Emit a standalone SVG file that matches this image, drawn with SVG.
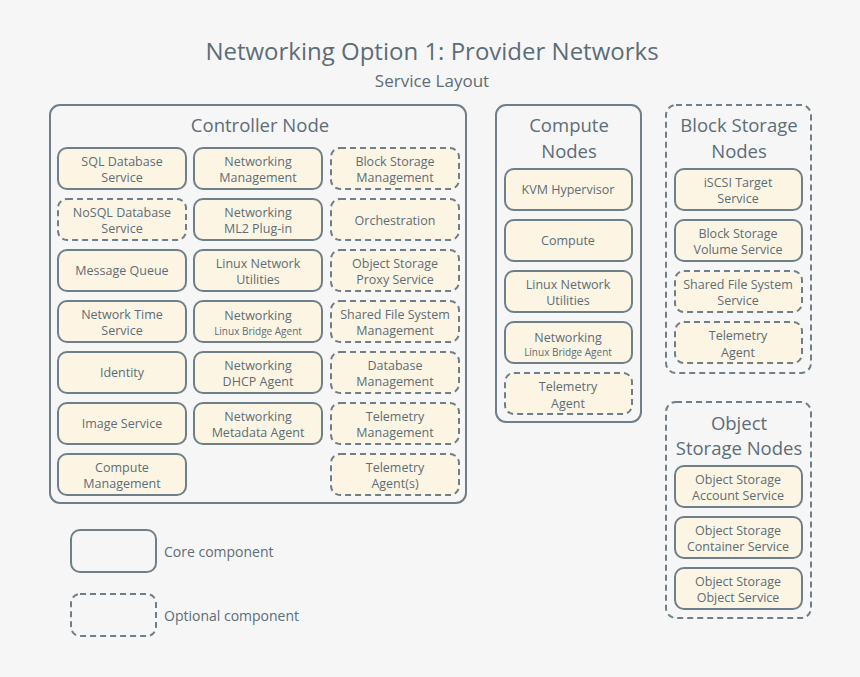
<svg xmlns="http://www.w3.org/2000/svg" width="860" height="677" viewBox="0 0 860 677">
<style>
text{font-family:"Open Sans","Noto Sans",sans-serif;fill:#5d6d77;text-anchor:middle}
.t{font-size:12.5px}.s{font-size:10px}
.b{fill:#fcf5e3;stroke:#6e7f89;stroke-width:2}
.d{stroke-dasharray:6 4}
.c{fill:none;stroke:#6e7f89;stroke-width:2}
.h{font-size:18.5px}
</style>
<rect width="860" height="677" fill="#f6f6f6"/>
<text x="432" y="60" style="font-size:24px">Networking Option 1: Provider Networks</text>
<text x="432" y="87" style="font-size:17px">Service Layout</text>
<g id="controller"><rect class="c" x="50" y="105" width="416" height="398" rx="10"/><text class="h" x="260" y="132">Controller Node</text></g>
<g id="compute"><rect class="c" x="496" y="105" width="145" height="317" rx="10"/><text class="h" x="569" y="132">Compute</text><text class="h" x="569" y="158">Nodes</text></g>
<g id="block"><rect class="c d" x="666" y="105" width="145" height="268" rx="10"/><text class="h" x="739" y="132">Block Storage</text><text class="h" x="739" y="158">Nodes</text></g>
<g id="object"><rect class="c d" x="666" y="402" width="145" height="216" rx="10"/><text class="h" x="739" y="430">Object</text><text class="h" x="739" y="455">Storage Nodes</text></g>
<g id="c1"><rect class="b" x="58" y="148" width="128" height="41" rx="9"/><text class="t" x="122" y="166">SQL Database</text><text class="t" x="122" y="182">Service</text></g>
<g id="c2"><rect class="b d" x="58" y="199" width="128" height="41" rx="9"/><text class="t" x="122" y="217">NoSQL Database</text><text class="t" x="122" y="233">Service</text></g>
<g id="c3"><rect class="b" x="58" y="250" width="128" height="41" rx="9"/><text class="t" x="122" y="275">Message Queue</text></g>
<g id="c4"><rect class="b" x="58" y="301" width="128" height="41" rx="9"/><text class="t" x="122" y="319">Network Time</text><text class="t" x="122" y="335">Service</text></g>
<g id="c5"><rect class="b" x="58" y="352" width="128" height="41" rx="9"/><text class="t" x="122" y="377">Identity</text></g>
<g id="c6"><rect class="b" x="58" y="403" width="128" height="41" rx="9"/><text class="t" x="122" y="428">Image Service</text></g>
<g id="c7"><rect class="b" x="58" y="454" width="128" height="41" rx="9"/><text class="t" x="122" y="472">Compute</text><text class="t" x="122" y="488">Management</text></g>
<g id="n1"><rect class="b" x="194" y="148" width="128" height="41" rx="9"/><text class="t" x="258" y="166">Networking</text><text class="t" x="258" y="182">Management</text></g>
<g id="n2"><rect class="b" x="194" y="199" width="128" height="41" rx="9"/><text class="t" x="258" y="217">Networking</text><text class="t" x="258" y="233">ML2 Plug-in</text></g>
<g id="n3"><rect class="b" x="194" y="250" width="128" height="41" rx="9"/><text class="t" x="258" y="268">Linux Network</text><text class="t" x="258" y="284">Utilities</text></g>
<g id="n4"><rect class="b" x="194" y="301" width="128" height="41" rx="9"/><text class="t" x="258" y="320">Networking</text><text class="s" x="258" y="335">Linux Bridge Agent</text></g>
<g id="n5"><rect class="b" x="194" y="352" width="128" height="41" rx="9"/><text class="t" x="258" y="370">Networking</text><text class="t" x="258" y="386">DHCP Agent</text></g>
<g id="n6"><rect class="b" x="194" y="403" width="128" height="41" rx="9"/><text class="t" x="258" y="421">Networking</text><text class="t" x="258" y="437">Metadata Agent</text></g>
<g id="o1"><rect class="b d" x="331" y="148" width="128" height="41" rx="9"/><text class="t" x="395" y="166">Block Storage</text><text class="t" x="395" y="182">Management</text></g>
<g id="o2"><rect class="b d" x="331" y="199" width="128" height="41" rx="9"/><text class="t" x="395" y="225">Orchestration</text></g>
<g id="o3"><rect class="b d" x="331" y="250" width="128" height="41" rx="9"/><text class="t" x="395" y="268">Object Storage</text><text class="t" x="395" y="284">Proxy Service</text></g>
<g id="o4"><rect class="b d" x="331" y="301" width="128" height="41" rx="9"/><text class="t" x="395" y="319">Shared File System</text><text class="t" x="395" y="335">Management</text></g>
<g id="o5"><rect class="b d" x="331" y="352" width="128" height="41" rx="9"/><text class="t" x="395" y="370">Database</text><text class="t" x="395" y="386">Management</text></g>
<g id="o6"><rect class="b d" x="331" y="403" width="128" height="41" rx="9"/><text class="t" x="395" y="421">Telemetry</text><text class="t" x="395" y="437">Management</text></g>
<g id="o7"><rect class="b d" x="331" y="454" width="128" height="41" rx="9"/><text class="t" x="395" y="472">Telemetry</text><text class="t" x="395" y="488">Agent(s)</text></g>
<g id="k1"><rect class="b" x="505" y="169" width="127" height="41" rx="9"/><text class="t" x="568" y="194">KVM Hypervisor</text></g>
<g id="k2"><rect class="b" x="505" y="220" width="127" height="41" rx="9"/><text class="t" x="568" y="245">Compute</text></g>
<g id="k3"><rect class="b" x="505" y="271" width="127" height="41" rx="9"/><text class="t" x="568" y="289">Linux Network</text><text class="t" x="568" y="305">Utilities</text></g>
<g id="k4"><rect class="b" x="505" y="322" width="127" height="41" rx="9"/><text class="t" x="568" y="342">Networking</text><text class="s" x="568" y="356">Linux Bridge Agent</text></g>
<g id="k5"><rect class="b d" x="505" y="373" width="127" height="41" rx="9"/><text class="t" x="568" y="391">Telemetry</text><text class="t" x="568" y="408">Agent</text></g>
<g id="s1"><rect class="b" x="675" y="169" width="127" height="41" rx="9"/><text class="t" x="738" y="187">iSCSI Target</text><text class="t" x="738" y="203">Service</text></g>
<g id="s2"><rect class="b" x="675" y="220" width="127" height="41" rx="9"/><text class="t" x="738" y="238">Block Storage</text><text class="t" x="738" y="254">Volume Service</text></g>
<g id="s3"><rect class="b d" x="675" y="271" width="127" height="41" rx="9"/><text class="t" x="738" y="289">Shared File System</text><text class="t" x="738" y="305">Service</text></g>
<g id="s4"><rect class="b d" x="675" y="322" width="127" height="41" rx="9"/><text class="t" x="738" y="340">Telemetry</text><text class="t" x="738" y="357">Agent</text></g>
<g id="os1"><rect class="b" x="675" y="466" width="127" height="41" rx="9"/><text class="t" x="738" y="484">Object Storage</text><text class="t" x="738" y="500">Account Service</text></g>
<g id="os2"><rect class="b" x="675" y="517" width="127" height="41" rx="9"/><text class="t" x="738" y="535">Object Storage</text><text class="t" x="738" y="551">Container Service</text></g>
<g id="os3"><rect class="b" x="675" y="568" width="127" height="41" rx="9"/><text class="t" x="738" y="586">Object Storage</text><text class="t" x="738" y="602">Object Service</text></g>
<g id="legend-core"><rect class="c" x="71" y="530" width="85" height="42" rx="9"/><text x="164" y="557" style="font-size:14px;text-anchor:start">Core component</text></g>
<g id="legend-opt"><rect class="c d" x="71" y="594" width="85" height="42" rx="9"/><text x="164" y="621" style="font-size:14px;text-anchor:start">Optional component</text></g>
<g id="connectors"/>
</svg>
